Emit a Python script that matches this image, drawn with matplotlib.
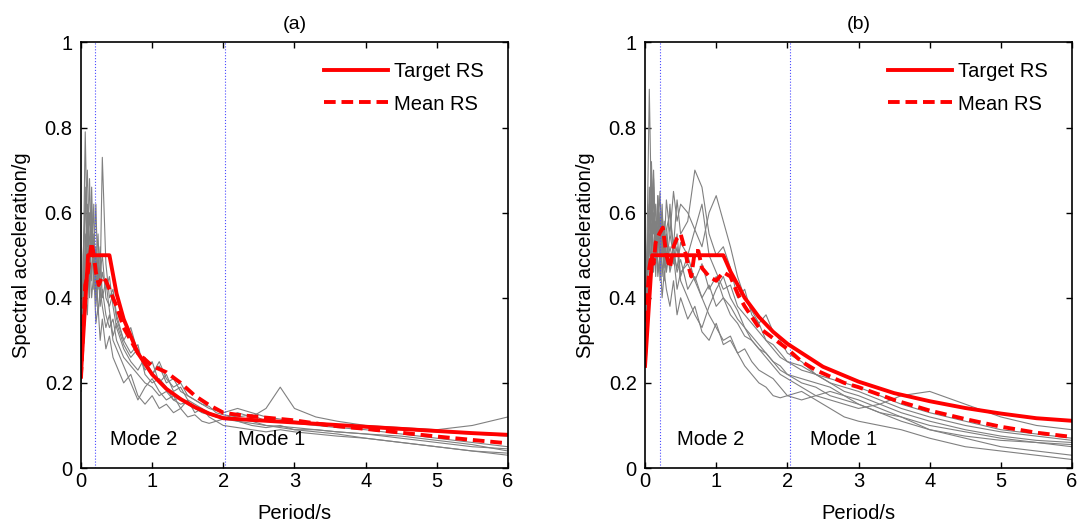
import matplotlib
matplotlib.use("Agg")
import matplotlib.pyplot as plt
import numpy as np

plt.rcParams["font.family"] = ["Liberation Sans", "DejaVu Sans"]
plt.rcParams["font.size"] = 14.5

# period grid shared by the individual record spectra
period = [0.0, 0.03, 0.06, 0.09, 0.12, 0.15, 0.18, 0.21, 0.24, 0.27,
          0.3, 0.35, 0.4, 0.45, 0.5, 0.6, 0.7, 0.8, 0.9, 1.0,
          1.1, 1.2, 1.3, 1.4, 1.5, 1.6, 1.7, 1.8, 1.9, 2.0,
          2.2, 2.4, 2.6, 2.8, 3.0, 3.3, 3.6, 4.0, 4.5, 5.0,
          5.5, 6.0]

# (a) individual records
rec_a1 = [0.20, 0.45, 0.79, 0.52, 0.60, 0.44, 0.55, 0.40, 0.47, 0.38, 0.42, 0.36, 0.33, 0.35, 0.30,
          0.26, 0.24, 0.22, 0.20, 0.19, 0.17, 0.18, 0.16, 0.15, 0.155, 0.14, 0.13, 0.125, 0.12, 0.115,
          0.11, 0.105, 0.10, 0.098, 0.095, 0.09, 0.085, 0.08, 0.07, 0.06, 0.05, 0.045]
rec_a2 = [0.24, 0.38, 0.50, 0.62, 0.45, 0.56, 0.48, 0.42, 0.50, 0.44, 0.73, 0.48, 0.40, 0.42, 0.36,
          0.30, 0.33, 0.27, 0.24, 0.22, 0.25, 0.21, 0.19, 0.20, 0.17, 0.16, 0.15, 0.14, 0.135, 0.13,
          0.14, 0.13, 0.12, 0.115, 0.11, 0.105, 0.10, 0.095, 0.09, 0.085, 0.08, 0.075]
rec_a3 = [0.18, 0.30, 0.55, 0.48, 0.68, 0.50, 0.62, 0.38, 0.45, 0.52, 0.40, 0.44, 0.37, 0.31, 0.34,
          0.29, 0.26, 0.28, 0.23, 0.25, 0.20, 0.22, 0.18, 0.19, 0.16, 0.15, 0.14, 0.13, 0.12, 0.12,
          0.11, 0.10, 0.095, 0.10, 0.09, 0.085, 0.08, 0.07, 0.06, 0.05, 0.04, 0.035]
rec_a4 = [0.22, 0.35, 0.48, 0.58, 0.40, 0.66, 0.45, 0.52, 0.36, 0.42, 0.38, 0.33, 0.36, 0.30, 0.28,
          0.24, 0.20, 0.16, 0.19, 0.21, 0.18, 0.16, 0.17, 0.14, 0.16, 0.13, 0.14, 0.12, 0.11, 0.115,
          0.13, 0.12, 0.14, 0.19, 0.14, 0.12, 0.11, 0.10, 0.095, 0.09, 0.10, 0.12]
rec_a5 = [0.19, 0.28, 0.42, 0.36, 0.50, 0.40, 0.46, 0.34, 0.38, 0.30, 0.35, 0.28, 0.31, 0.26, 0.24,
          0.20, 0.22, 0.17, 0.15, 0.17, 0.14, 0.15, 0.13, 0.14, 0.12, 0.125, 0.11, 0.105, 0.11, 0.10,
          0.095, 0.09, 0.085, 0.09, 0.085, 0.08, 0.075, 0.07, 0.06, 0.05, 0.04, 0.03]
rec_a6 = [0.25, 0.40, 0.66, 0.44, 0.54, 0.60, 0.42, 0.48, 0.55, 0.40, 0.46, 0.42, 0.45, 0.38, 0.33,
          0.28, 0.25, 0.23, 0.26, 0.22, 0.24, 0.20, 0.21, 0.18, 0.17, 0.16, 0.15, 0.145, 0.13, 0.125,
          0.12, 0.125, 0.11, 0.11, 0.105, 0.10, 0.095, 0.09, 0.08, 0.07, 0.06, 0.05]
rec_a7 = [0.21, 0.50, 0.60, 0.70, 0.47, 0.58, 0.50, 0.62, 0.42, 0.46, 0.50, 0.40, 0.38, 0.41, 0.35,
          0.30, 0.27, 0.29, 0.22, 0.20, 0.21, 0.19, 0.16, 0.165, 0.15, 0.14, 0.135, 0.13, 0.125, 0.12,
          0.115, 0.11, 0.10, 0.095, 0.09, 0.09, 0.085, 0.08, 0.075, 0.065, 0.055, 0.04]

# (b) individual records
rec_b1 = [0.26, 0.55, 0.89, 0.60, 0.70, 0.52, 0.64, 0.48, 0.58, 0.50, 0.55, 0.47, 0.52, 0.46, 0.49,
          0.42, 0.45, 0.40, 0.43, 0.38, 0.40, 0.36, 0.34, 0.31, 0.30, 0.28, 0.27, 0.25, 0.24, 0.22,
          0.20, 0.19, 0.17, 0.16, 0.15, 0.13, 0.12, 0.10, 0.085, 0.07, 0.06, 0.05]
rec_b2 = [0.25, 0.42, 0.60, 0.50, 0.66, 0.45, 0.58, 0.52, 0.62, 0.48, 0.56, 0.60, 0.52, 0.63, 0.55,
          0.58, 0.70, 0.66, 0.55, 0.50, 0.52, 0.47, 0.40, 0.42, 0.36, 0.34, 0.30, 0.29, 0.27, 0.25,
          0.24, 0.22, 0.21, 0.20, 0.19, 0.17, 0.15, 0.13, 0.11, 0.09, 0.08, 0.07]
rec_b3 = [0.28, 0.45, 0.52, 0.68, 0.48, 0.55, 0.50, 0.60, 0.45, 0.52, 0.48, 0.55, 0.50, 0.47, 0.53,
          0.50, 0.56, 0.52, 0.60, 0.64, 0.58, 0.52, 0.45, 0.40, 0.37, 0.34, 0.36, 0.32, 0.30, 0.27,
          0.25, 0.22, 0.20, 0.19, 0.18, 0.16, 0.14, 0.12, 0.10, 0.085, 0.075, 0.065]
rec_b4 = [0.24, 0.50, 0.58, 0.72, 0.55, 0.62, 0.46, 0.50, 0.40, 0.46, 0.42, 0.38, 0.44, 0.36, 0.40,
          0.35, 0.38, 0.32, 0.30, 0.34, 0.29, 0.30, 0.27, 0.28, 0.25, 0.23, 0.22, 0.21, 0.19, 0.17,
          0.16, 0.17, 0.18, 0.17, 0.16, 0.14, 0.12, 0.09, 0.07, 0.05, 0.04, 0.03]
rec_b5 = [0.27, 0.48, 0.66, 0.52, 0.60, 0.48, 0.55, 0.65, 0.50, 0.58, 0.46, 0.52, 0.48, 0.55, 0.45,
          0.50, 0.44, 0.48, 0.42, 0.45, 0.40, 0.38, 0.35, 0.33, 0.30, 0.28, 0.26, 0.24, 0.22, 0.21,
          0.19, 0.17, 0.16, 0.15, 0.14, 0.15, 0.17, 0.18, 0.15, 0.12, 0.10, 0.09]
rec_b6 = [0.30, 0.40, 0.55, 0.47, 0.52, 0.58, 0.45, 0.50, 0.56, 0.44, 0.50, 0.62, 0.48, 0.52, 0.44,
          0.40, 0.36, 0.33, 0.38, 0.42, 0.45, 0.40, 0.37, 0.33, 0.31, 0.29, 0.27, 0.25, 0.23, 0.22,
          0.21, 0.20, 0.19, 0.17, 0.15, 0.13, 0.11, 0.09, 0.075, 0.065, 0.06, 0.055]
rec_b7 = [0.26, 0.44, 0.50, 0.62, 0.46, 0.54, 0.60, 0.44, 0.52, 0.47, 0.54, 0.46, 0.50, 0.42, 0.46,
          0.48, 0.44, 0.40, 0.36, 0.33, 0.30, 0.31, 0.27, 0.24, 0.22, 0.20, 0.19, 0.17, 0.165, 0.17,
          0.18, 0.16, 0.14, 0.12, 0.11, 0.10, 0.09, 0.07, 0.05, 0.04, 0.03, 0.02]
rec_b8 = [0.28, 0.52, 0.62, 0.55, 0.68, 0.50, 0.64, 0.56, 0.60, 0.52, 0.63, 0.55, 0.65, 0.58, 0.62,
          0.60, 0.56, 0.62, 0.50, 0.46, 0.42, 0.43, 0.38, 0.36, 0.34, 0.32, 0.30, 0.28, 0.26, 0.25,
          0.23, 0.22, 0.20, 0.18, 0.17, 0.15, 0.13, 0.11, 0.09, 0.075, 0.065, 0.06]

# target spectra
target_T_a = [0, 0.1, 0.4, 0.5, 0.6, 0.8, 1.0, 1.2, 1.4, 1.6, 1.8, 2.0, 2.5, 3.0, 3.5, 4.0, 4.5, 5.0, 5.5, 6.0]
target_S_a = [0.22, 0.5, 0.5, 0.41, 0.35, 0.27, 0.22, 0.186, 0.162, 0.143, 0.128, 0.117,
              0.112, 0.107, 0.102, 0.097, 0.092, 0.087, 0.082, 0.078]
target_T_b = [0, 0.1, 1.1, 1.2, 1.4, 1.6, 1.8, 2.0, 2.5, 3.0, 3.5, 4.0, 4.5, 5.0, 5.5, 6.0]
target_S_b = [0.24, 0.5, 0.5, 0.462, 0.40, 0.355, 0.32, 0.292, 0.238, 0.203, 0.176, 0.157,
              0.141, 0.128, 0.117, 0.111]

# mean spectra
mean_T_a = [0, 0.03, 0.06, 0.09, 0.12, 0.15, 0.18, 0.21, 0.25, 0.3, 0.35, 0.4, 0.45, 0.5, 0.6, 0.7,
            0.8, 0.9, 1.0, 1.2, 1.4, 1.6, 1.8, 2.0, 2.2, 2.5, 3.0, 3.5, 4.0, 4.5, 5.0, 5.5, 6.0]
mean_S_a = [0.21, 0.33, 0.43, 0.45, 0.49, 0.53, 0.50, 0.46, 0.43, 0.45, 0.44, 0.42, 0.40, 0.38, 0.33,
            0.30, 0.27, 0.255, 0.24, 0.225, 0.20, 0.17, 0.148, 0.13, 0.125, 0.12, 0.112, 0.10, 0.092,
            0.083, 0.074, 0.066, 0.058]
mean_T_b = [0, 0.03, 0.06, 0.09, 0.12, 0.15, 0.2, 0.25, 0.3, 0.35, 0.4, 0.45, 0.5, 0.55, 0.6, 0.65,
            0.7, 0.75, 0.8, 0.9, 1.0, 1.1, 1.2, 1.3, 1.4, 1.6, 1.8, 2.0, 2.2, 2.4, 2.6, 2.8, 3.0, 3.5,
            4.0, 4.5, 5.0, 5.5, 6.0]
mean_S_b = [0.26, 0.40, 0.47, 0.50, 0.48, 0.53, 0.55, 0.565, 0.50, 0.47, 0.52, 0.54, 0.55, 0.52, 0.48,
            0.45, 0.51, 0.51, 0.47, 0.45, 0.44, 0.46, 0.45, 0.41, 0.38, 0.33, 0.305, 0.28, 0.25, 0.23,
            0.215, 0.20, 0.19, 0.16, 0.135, 0.115, 0.097, 0.083, 0.073]

mode_lines_a = [0.2, 2.03]
mode_lines_b = [0.21, 2.04]

panels = [
    ("(a)", [rec_a1, rec_a2, rec_a3, rec_a4, rec_a5, rec_a6, rec_a7],
     target_T_a, target_S_a, mean_T_a, mean_S_a, mode_lines_a, (0.41, 2.2)),
    ("(b)", [rec_b1, rec_b2, rec_b3, rec_b4, rec_b5, rec_b6, rec_b7, rec_b8],
     target_T_b, target_S_b, mean_T_b, mean_S_b, mode_lines_b, (0.45, 2.32)),
]

fig = plt.figure(figsize=(10.81, 5.28), dpi=100)
lefts = [0.0749, 0.5967]

for left, (title, recs, tT, tS, mT, mS, vlines, mode_x) in zip(lefts, panels):
    ax = fig.add_axes([left, 0.1136, 0.395, 0.806])
    for r in recs:
        ax.plot(period, r, color="#808080", linewidth=0.8)
    for v in vlines:
        ax.axvline(v, color="#4a4aff", linestyle=":", linewidth=0.8)
    ax.plot(tT, tS, color="red", linewidth=2.8, label="Target RS")
    ax.plot(mT, mS, color="red", linewidth=2.8, linestyle="--", dashes=(3, 1.5), label="Mean RS")

    ax.text(mode_x[0], 0.066, "Mode 2", va="center", ha="left")
    ax.text(mode_x[1], 0.066, "Mode 1", va="center", ha="left")

    ax.set_xlim(0, 6)
    ax.set_ylim(0, 1)
    ax.set_xticks(range(7))
    ax.set_yticks([0, 0.2, 0.4, 0.6, 0.8, 1])
    ax.set_yticklabels(["0", "0.2", "0.4", "0.6", "0.8", "1"])
    ax.tick_params(direction="in", top=True, right=True, length=4, width=1, labelsize=14.5)
    ax.tick_params(axis="x", pad=3)
    ax.tick_params(axis="y", pad=6)
    for s in ax.spines.values():
        s.set_linewidth(1.2)
    ax.set_xlabel("Period/s", labelpad=9)
    ax.set_ylabel("Spectral acceleration/g", labelpad=10)
    ax.set_title(title, pad=10, fontsize=14)
    ax.legend(loc="upper left", bbox_to_anchor=(0.568, 0.953), frameon=False,
              handlelength=3.2, borderaxespad=0, borderpad=0, labelspacing=0.65,
              handletextpad=0.3)

fig.savefig("out.png", dpi=100)
